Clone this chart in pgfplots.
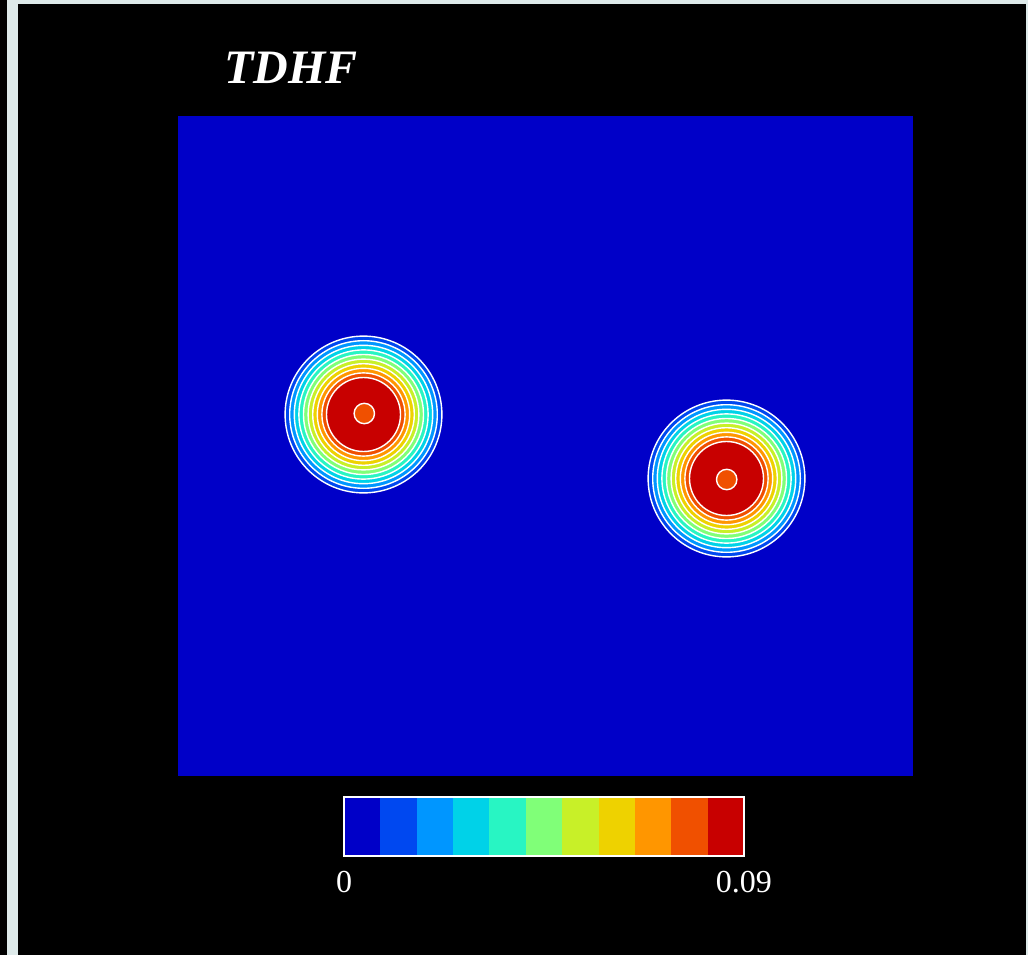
\documentclass[border=0pt]{standalone}
\usepackage{pgfplots}
\pgfplotsset{compat=1.18}
\usepackage{pgfplotstable}
\usepackage{fontspec}
\setmainfont{Liberation Serif}

\definecolor{cb0}{RGB}{0,0,200}
\definecolor{cb1}{RGB}{0,72,240}
\definecolor{cb2}{RGB}{0,150,255}
\definecolor{cb3}{RGB}{0,210,232}
\definecolor{cb4}{RGB}{40,245,195}
\definecolor{cb5}{RGB}{128,255,120}
\definecolor{cb6}{RGB}{200,240,40}
\definecolor{cb7}{RGB}{238,210,0}
\definecolor{cb8}{RGB}{255,150,0}
\definecolor{cb9}{RGB}{240,80,0}
\definecolor{cb10}{RGB}{200,0,0}
\definecolor{strip}{RGB}{222,234,234}

% contour bands: centre x, centre y (pixel units of the plot area), radius, level
\pgfplotstableread{
x y r c
185.5 361.5 78.4 1
185.5 361.5 73.8 2
185.5 361.5 69.2 3
185.5 361.5 64.6 4
185.5 361.5 60.0 5
185.5 361.5 55.4 6
185.5 361.5 50.8 7
185.5 361.5 46.2 8
185.5 361.5 41.6 9
185.5 361.5 37.0 10
186.3 362.5 10.2 9
548.5 297.5 78.4 1
548.5 297.5 73.8 2
548.5 297.5 69.2 3
548.5 297.5 64.6 4
548.5 297.5 60.0 5
548.5 297.5 55.4 6
548.5 297.5 50.8 7
548.5 297.5 46.2 8
548.5 297.5 41.6 9
548.5 297.5 37.0 10
548.7 296.5 10.2 9
}\blobs

\begin{document}
\begin{tikzpicture}
\useasboundingbox (0,0) rectangle (514pt,477.5pt);
\fill[strip] (0,0) rectangle (514pt,477.5pt);
\fill[black] (0,0) rectangle (3.5pt,477.5pt);
\fill[black] (9pt,0) rectangle (513pt,475.5pt);

\node[anchor=base west, text=white, font=\bfseries\itshape\fontsize{24}{28}\selectfont, inner sep=0pt]
  at (112pt,435.5pt) {TDHF};

\begin{axis}[
  at={(89pt,89.5pt)}, anchor=south west,
  scale only axis, width=367.5pt, height=330pt,
  xmin=0, xmax=735, ymin=0, ymax=660,
  ticks=none, axis line style={draw=none},
  axis background/.style={fill=cb0},
]
\addplot[scatter, only marks, mark=*,
  visualization depends on={0.5*\thisrow{r} \as \rad},
  visualization depends on={\thisrow{c} \as \lev},
  scatter/@pre marker code/.code={\pgfmathtruncatemacro\levi{\lev}\scope[mark size=\rad, fill=cb\levi, draw=white, line width=0.7pt]},
  scatter/@post marker code/.code={\endscope}]
  table[x=x, y=y] {\blobs};
\end{axis}

\begin{axis}[
  at={(172pt,49.5pt)}, anchor=south west,
  scale only axis, width=200pt, height=29.5pt,
  xmin=0, xmax=0.09, ymin=0, ymax=1,
  xtick={0,0.09}, xticklabels={0,0.09}, ytick=\empty,
  scaled x ticks=false,
  major tick length=0pt,
  axis on top,
  axis line style={draw=white, line width=0.6pt},
  xticklabel style={text=white, font=\fontsize{16}{18}\selectfont, yshift=-4pt},
  /pgf/number format/assume math mode=true,
]
\addplot[fill=cb0, draw=none] coordinates {(0,1) (0.00818,1)} \closedcycle;
\addplot[fill=cb1, draw=none] coordinates {(0.00818,1) (0.01636,1)} \closedcycle;
\addplot[fill=cb2, draw=none] coordinates {(0.01636,1) (0.02455,1)} \closedcycle;
\addplot[fill=cb3, draw=none] coordinates {(0.02455,1) (0.03273,1)} \closedcycle;
\addplot[fill=cb4, draw=none] coordinates {(0.03273,1) (0.04091,1)} \closedcycle;
\addplot[fill=cb5, draw=none] coordinates {(0.04091,1) (0.04909,1)} \closedcycle;
\addplot[fill=cb6, draw=none] coordinates {(0.04909,1) (0.05727,1)} \closedcycle;
\addplot[fill=cb7, draw=none] coordinates {(0.05727,1) (0.06545,1)} \closedcycle;
\addplot[fill=cb8, draw=none] coordinates {(0.06545,1) (0.07364,1)} \closedcycle;
\addplot[fill=cb9, draw=none] coordinates {(0.07364,1) (0.08182,1)} \closedcycle;
\addplot[fill=cb10, draw=none] coordinates {(0.08182,1) (0.09,1)} \closedcycle;
\end{axis}
\end{tikzpicture}
\end{document}
